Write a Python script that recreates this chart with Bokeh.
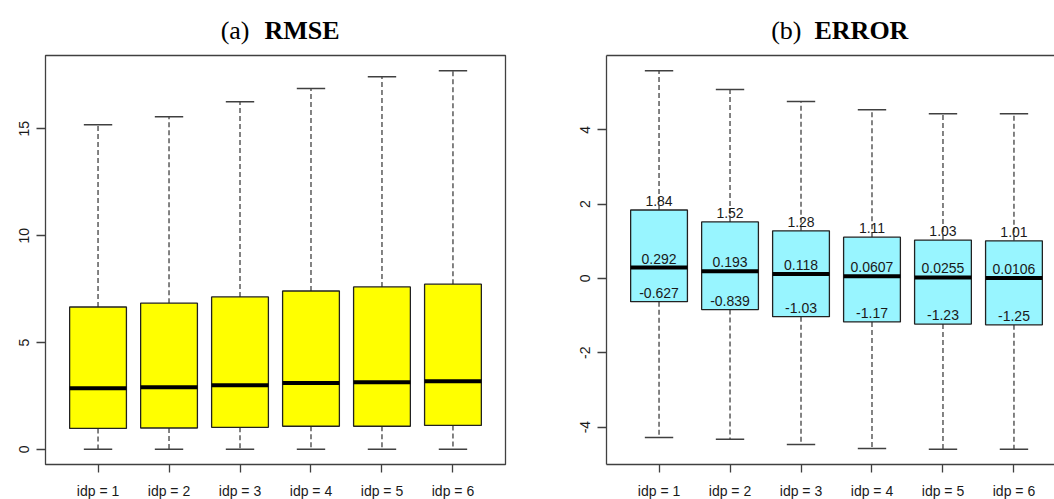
from bokeh.plotting import figure
from bokeh.models import Range1d, FixedTicker, LinearAxis, ColumnDataSource
from bokeh.layouts import row, column
from bokeh.core.properties import value
from bokeh.embed import file_html
from bokeh.resources import INLINE

# ---------------- data ----------------
categories = ["idp = 1", "idp = 2", "idp = 3", "idp = 4", "idp = 5", "idp = 6"]
positions = [1, 2, 3, 4, 5, 6]

rmse_low = [0.0, 0.0, 0.0, 0.0, 0.0, 0.0]
rmse_q1 = [0.98, 1.0, 1.03, 1.08, 1.08, 1.12]
rmse_med = [2.86, 2.9, 3.0, 3.1, 3.14, 3.19]
rmse_q3 = [6.66, 6.84, 7.13, 7.41, 7.6, 7.73]
rmse_high = [15.19, 15.56, 16.27, 16.88, 17.44, 17.72]

err_low = [-4.28, -4.33, -4.47, -4.58, -4.60, -4.60]
err_q1 = [-0.627, -0.839, -1.03, -1.17, -1.23, -1.25]
err_med = [0.292, 0.193, 0.118, 0.0607, 0.0255, 0.0106]
err_q3 = [1.84, 1.52, 1.28, 1.11, 1.03, 1.01]
err_high = [5.59, 5.08, 4.76, 4.54, 4.43, 4.43]

rmse_yticks = [0, 5, 10, 15]
err_yticks = [-4, -2, 0, 2, 4]

title_a = ["(a)", "RMSE"]
title_b = ["(b)", "ERROR"]

# ---------------- style ----------------
FRAME = "#404040"
TXT = "#1a1a1a"
SANS = "Liberation Sans"
SERIF = "Liberation Serif"
BOX_W = 0.8
CAP_W = 0.4
X0 = 0.26
XC = 3.5
PPU = 460 / 6.48  # pixels per x unit
TITLE_H = 53
FRAME_H = 409


def yrange(lo, hi):
    pad = 0.04 * (hi - lo)
    return Range1d(lo - pad, hi + pad)


def make_fig(x_end, yr, frame_w, mb_left, mb_right, yticks):
    p = figure(output_backend="svg", toolbar_location=None,
               frame_width=frame_w, frame_height=FRAME_H,
               min_border_left=mb_left, min_border_right=mb_right,
               min_border_top=2, min_border_bottom=35,
               x_range=Range1d(X0, x_end), y_range=yr)
    p.xgrid.grid_line_color = None
    p.ygrid.grid_line_color = None
    p.background_fill_color = "white"
    p.border_fill_color = "white"
    for ax in (p.xaxis, p.yaxis):
        ax.major_tick_in = 0
        ax.minor_tick_line_color = None
        ax.major_tick_line_color = FRAME
        ax.major_tick_line_width = 1.3
        ax.axis_line_color = None
        ax.major_label_text_font = SANS
        ax.major_label_text_font_size = "14px"
        ax.major_label_text_color = TXT
    p.xaxis.ticker = FixedTicker(ticks=positions)
    p.xaxis.major_label_overrides = {k: v for k, v in zip(positions, categories)}
    p.xaxis.major_tick_out = 8
    p.xaxis.major_label_standoff = 10
    p.yaxis.ticker = FixedTicker(ticks=yticks)
    p.yaxis.major_label_overrides = {t: str(t) for t in yticks}
    p.yaxis.major_label_orientation = "vertical"
    p.yaxis.major_tick_out = 9
    p.yaxis.major_label_standoff = 7
    return p


def make_title(x_end, frame_w, mb_left, mb_right, words, offs):
    t = figure(output_backend="svg", toolbar_location=None,
               frame_width=frame_w, frame_height=TITLE_H,
               min_border_left=mb_left, min_border_right=mb_right,
               min_border_top=0, min_border_bottom=0,
               x_range=Range1d(X0, x_end), y_range=Range1d(0, TITLE_H))
    t.axis.visible = False
    t.grid.visible = False
    t.outline_line_color = None
    t.background_fill_color = "white"
    t.border_fill_color = "white"
    base = TITLE_H - 30
    t.text(x=[XC], y=[base], text=[words[0]], text_font=value(SERIF),
           text_font_size="26px", text_color="black", text_align="right",
           text_baseline="alphabetic", x_offset=offs[0])
    t.text(x=[XC], y=[base], text=[words[1]], text_font=value(SERIF),
           text_font_style="bold", text_font_size="26px", text_color="black",
           text_align="left", text_baseline="alphabetic", x_offset=offs[1])
    return t


def draw_boxes(p, low, q1, med, q3, high, fill):
    src = ColumnDataSource(dict(
        x=positions, low=low, q1=q1, med=med, q3=q3, high=high,
        xl=[x - BOX_W / 2 for x in positions], xr=[x + BOX_W / 2 for x in positions],
        cl=[x - CAP_W / 2 for x in positions], cr=[x + CAP_W / 2 for x in positions],
    ))
    p.segment(x0="x", y0="q3", x1="x", y1="high", source=src,
              line_color=FRAME, line_width=1.3, line_dash="5 3")
    p.segment(x0="x", y0="q1", x1="x", y1="low", source=src,
              line_color=FRAME, line_width=1.3, line_dash="5 3")
    p.segment(x0="cl", y0="high", x1="cr", y1="high", source=src,
              line_color=FRAME, line_width=1.5)
    p.segment(x0="cl", y0="low", x1="cr", y1="low", source=src,
              line_color=FRAME, line_width=1.5)
    p.vbar(x="x", width=BOX_W, bottom="q1", top="q3", source=src,
           fill_color=fill, line_color="#222222", line_width=1.3)
    p.segment(x0="xl", y0="med", x1="xr", y1="med", source=src,
              line_color="black", line_width=4)
    return src


# ---------------- (a) RMSE ----------------
xa_end = X0 + 460 / PPU
p1 = make_fig(xa_end, yrange(min(rmse_low), max(rmse_high)), 460, 45, 51, rmse_yticks)
p1.outline_line_color = FRAME
p1.outline_line_width = 1.3
draw_boxes(p1, rmse_low, rmse_q1, rmse_med, rmse_q3, rmse_high, "#FFFF00")
t1 = make_title(xa_end, 460, 45, 51, title_a, (-26, -11))

# ---------------- (b) ERROR ----------------
FW2 = 448
xb_end = X0 + FW2 / PPU
p2 = make_fig(xb_end, yrange(min(err_low), max(err_high)), FW2, 50, 0, err_yticks)
p2.outline_line_color = None
p2.xaxis.axis_line_color = FRAME
p2.xaxis.axis_line_width = 1.3
p2.yaxis.axis_line_color = FRAME
p2.yaxis.axis_line_width = 1.3
top_axis = LinearAxis(ticker=FixedTicker(ticks=[]), axis_line_color=FRAME,
                      axis_line_width=1.3, major_tick_line_color=None,
                      minor_tick_line_color=None, major_label_text_font_size="0px")
p2.add_layout(top_axis, "above")
src2 = draw_boxes(p2, err_low, err_q1, err_med, err_q3, err_high, "#98F5FF")

for col in ("q3", "med", "q1"):
    vals = src2.data[col]
    p2.text(x=positions, y=vals, text=[f"{v:.3g}" for v in vals],
            text_font=value(SANS), text_font_size="14px", text_color=TXT,
            text_align="center", text_baseline="middle", y_offset=-9)
t2 = make_title(xb_end, FW2, 50, 0, title_b, (-35, -22))

layout = row(column(t1, p1), column(t2, p2))
open("out.html", "w").write(file_html(layout, INLINE))
